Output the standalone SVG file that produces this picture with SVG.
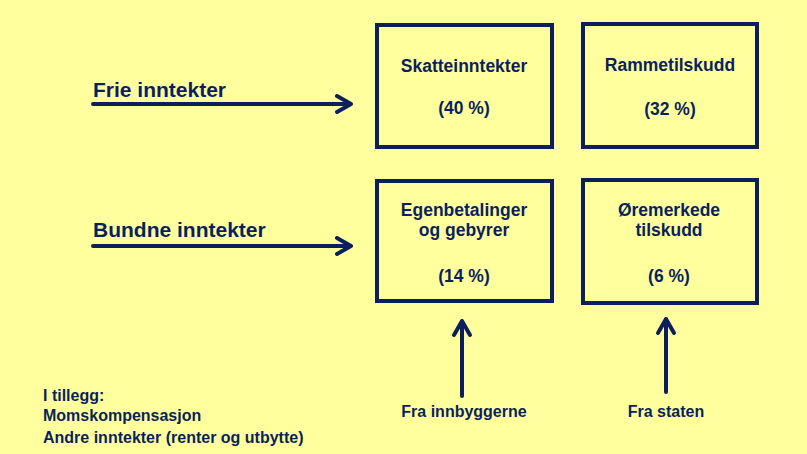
<svg xmlns="http://www.w3.org/2000/svg" width="807" height="454" viewBox="0 0 807 454">
<style>
.t{font-family:"Liberation Sans",Arial,sans-serif;font-weight:bold;fill:#0b1f5c}
.c{text-anchor:middle;font-size:17.5px}
.box{fill:none;stroke:#0b1f5c;stroke-width:4}
.ln{fill:none;stroke:#0b1f5c;stroke-width:4;stroke-linecap:round;stroke-linejoin:round}
</style>
<rect width="807" height="454" fill="#ffff9e"/>
<g id="skatt"><rect class="box" x="377" y="25" width="175" height="122"/><text class="t c" x="464" y="72">Skatteinntekter</text><text class="t c" x="464" y="114">(40 %)</text></g>
<g id="ramme"><rect class="box" x="583" y="24" width="174" height="123"/><text class="t c" x="670" y="71">Rammetilskudd</text><text class="t c" x="670" y="115">(32 %)</text></g>
<g id="egen"><rect class="box" x="377" y="181" width="175" height="120"/><text class="t c" x="464" y="216">Egenbetalinger</text><text class="t c" x="464" y="236">og gebyrer</text><text class="t c" x="464" y="282">(14 %)</text></g>
<g id="oremerk"><rect class="box" x="583" y="180" width="174" height="123"/><text class="t c" x="669" y="216">Øremerkede</text><text class="t c" x="669" y="236">tilskudd</text><text class="t c" x="669" y="282">(6 %)</text></g>
<g id="frie"><text class="t" x="93" y="97" font-size="21">Frie inntekter</text></g>
<g id="bundne"><text class="t" x="93" y="237" font-size="21">Bundne inntekter</text></g>
<g id="innb"><text class="t" x="464" y="417" font-size="16" text-anchor="middle">Fra innbyggerne</text></g>
<g id="staten"><text class="t" x="666" y="417" font-size="16" text-anchor="middle">Fra staten</text></g>
<g id="tillegg"><text class="t" x="43" y="401" font-size="16">I tillegg:</text><text class="t" x="43" y="421" font-size="16">Momskompensasjon</text><text class="t" x="43" y="443" font-size="16">Andre inntekter (renter og utbytte)</text></g>
<g id="connectors">
<path class="ln" d="M93 104H351M337 96L351 104L337 112"/>
<path class="ln" d="M93 246H351M337 238L351 246L337 254"/>
<path class="ln" d="M462 396V321M454 335L462 321L470 335"/>
<path class="ln" d="M666 392V319M658 333L666 319L674 333"/>
</g>
</svg>
